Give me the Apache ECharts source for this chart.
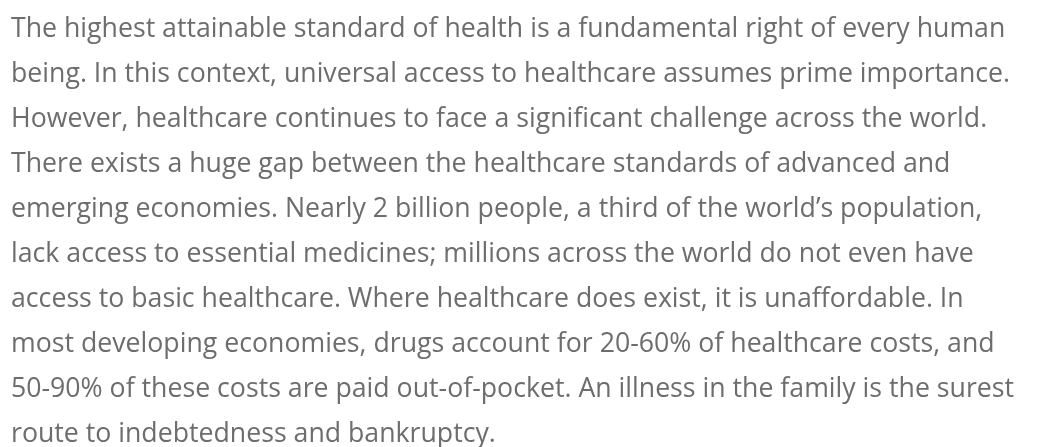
<!DOCTYPE html>
<html>
<head>
<meta charset="utf-8">
<script src="https://cdn.jsdelivr.net/npm/echarts@6/dist/echarts.min.js"></script>
<style>
    html, body { margin: 0; padding: 0; background: #fff; }
    #main { width: 1037px; height: 447px; }
</style>
</head>
<body>
<div id="main"></div>
<script>
// paragraph lines, as wrapped in the picture
const lines = [
    'The highest attainable standard of health is a fundamental right of every human',
    'being. In this context, universal access to healthcare assumes prime importance.',
    'However, healthcare continues to face a significant challenge across the world.',
    'There exists a huge gap between the healthcare standards of advanced and',
    'emerging economies. Nearly 2 billion people, a third of the world\u2019s population,',
    'lack access to essential medicines; millions across the world do not even have',
    'access to basic healthcare. Where healthcare does exist, it is unaffordable. In',
    'most developing economies, drugs account for 20-60% of healthcare costs, and',
    '50-90% of these costs are paid out-of-pocket. An illness in the family is the surest',
    'route to indebtedness and bankruptcy.'
];

const chart = echarts.init(document.getElementById('main'));

const fontSize = 26.7;
const textLeft = 11;
const firstMiddle = 29.5;
const lineGap = 45;

chart.setOption({
    graphic: lines.map((t, i) => ({
        type: 'text',
        x: textLeft,
        y: firstMiddle + i * lineGap,
        style: {
            text: t,
            fill: '#6d6d6d',
            font: fontSize + 'px "Open Sans", sans-serif',
            verticalAlign: 'middle'
        }
    }))
});
</script>
</body>
</html>
